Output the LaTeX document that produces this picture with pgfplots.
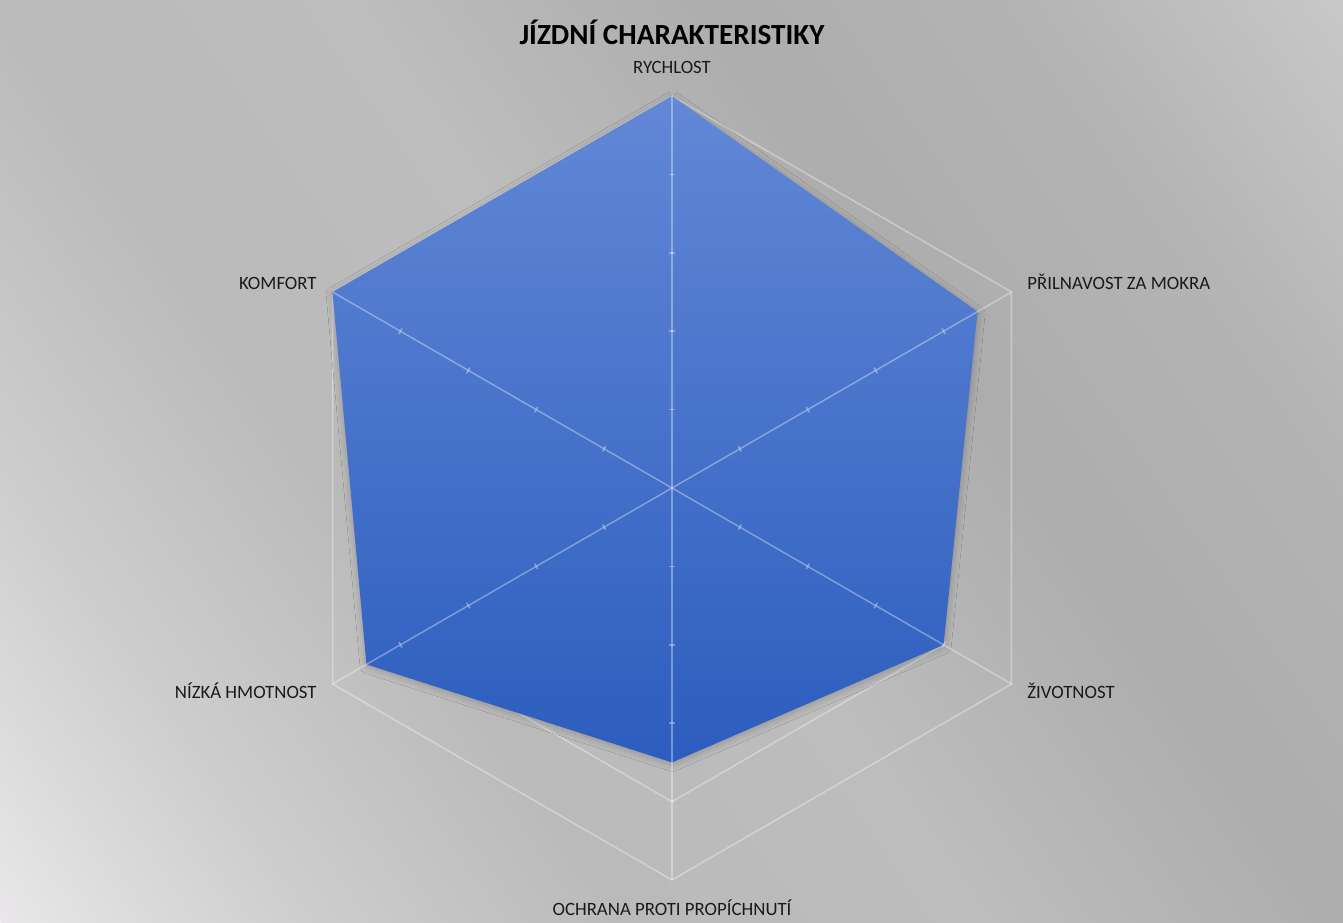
\documentclass[border=0pt]{standalone}
\usepackage{fontspec}
\setmainfont{Carlito}
\usepackage{pgfplots}
\pgfplotsset{compat=1.18}
\usetikzlibrary{shadows.blur}

\definecolor{bgA}{HTML}{E9E7E9}
\definecolor{bgB}{HTML}{CDCDCD}
\definecolor{bgC}{HTML}{BABABA}
\definecolor{bgD}{HTML}{BDBDBD}
\definecolor{bgE}{HTML}{ADADAD}
\definecolor{bgF}{HTML}{B4B4B4}
\definecolor{bgG}{HTML}{C8C8C8}
\definecolor{blueT}{HTML}{6288D6}
\definecolor{blueB}{HTML}{2C5DBE}
\definecolor{labeltext}{HTML}{1A1A1A}

\pgfdeclarehorizontalshading{bgshade}{100bp}{color(0bp)=(bgA); color(25bp)=(bgA); color(33bp)=(bgB); color(41bp)=(bgC); color(50bp)=(bgD); color(59bp)=(bgE); color(67bp)=(bgF); color(75bp)=(bgG); color(100bp)=(bgG)}

\tikzset{gridline/.style={draw=white, draw opacity=0.35, line width=0.75pt}}

\begin{document}
\begin{tikzpicture}
% background
\path (0,0) rectangle (671.5pt,461pt);
\begin{scope}
  \clip (0,0) rectangle (671.5pt,461pt);
  \begin{scope}[transform canvas={shift={(335.75pt,230.5pt)},rotate=34.47}]
    \shade[shading=bgshade] (-407.25pt,-400pt) rectangle (407.25pt,400pt);
  \end{scope}
\end{scope}

\begin{axis}[
  at={(336pt,217pt)}, anchor=origin,
  scale only axis, width=431.2pt, height=431.2pt,
  xmin=-5.5, xmax=5.5, ymin=-5.5, ymax=5.5,
  hide axis, clip=false]

  % hexagonal grid
  \pgfplotsinvokeforeach{1,2,3,4,5}{
    \addplot[gridline, data cs=polar] coordinates
      {(90,#1) (30,#1) (-30,#1) (-90,#1) (-150,#1) (150,#1) (90,#1)};
  }

  % data
  \addplot[draw=none, top color=blueT, bottom color=blueB,
    blur shadow={shadow xshift=0.3pt, shadow yshift=-1pt, shadow blur radius=3.5pt, shadow blur steps=12, shadow opacity=22},
    data cs=polar] coordinates
    {(90,5) (30,4.5) (-30,4) (-90,3.5) (-150,4.5) (150,5) (90,5)};

  % spokes
  \addplot[gridline, data cs=polar] coordinates {(90,5) (270,5)};
  \addplot[gridline, data cs=polar] coordinates {(30,5) (210,5)};
  \addplot[gridline, data cs=polar] coordinates {(-30,5) (150,5)};

  % ticks on spokes
  \pgfplotsinvokeforeach{90,30,-30,-90,-150,150}{
    \addplot[only marks, mark=-, mark size=1.6pt,
      mark options={draw=white, draw opacity=0.35, line width=0.75pt, rotate=#1-90},
      data cs=polar] coordinates {(#1,1) (#1,2) (#1,3) (#1,4)};
  }
\end{axis}

\begin{scope}[every node/.style={inner sep=0pt, text=labeltext, font=\fontsize{9.4}{11}\selectfont}]
  \node[anchor=base, text=black, font=\fontsize{14.6}{17}\selectfont\bfseries] at (336pt,438.5pt) {JÍZDNÍ CHARAKTERISTIKY};
  \node[anchor=base] at (336pt,424.25pt) {RYCHLOST};
  \node[anchor=base west] at (513.5pt,316.25pt) {PŘILNAVOST ZA MOKRA};
  \node[anchor=base west] at (513.5pt,111.75pt) {ŽIVOTNOST};
  \node[anchor=base] at (336pt,3.25pt) {OCHRANA PROTI PROPÍCHNUTÍ};
  \node[anchor=base east] at (158.5pt,111.75pt) {NÍZKÁ HMOTNOST};
  \node[anchor=base east] at (158.5pt,316.25pt) {KOMFORT};
\end{scope}
\end{tikzpicture}
\end{document}
